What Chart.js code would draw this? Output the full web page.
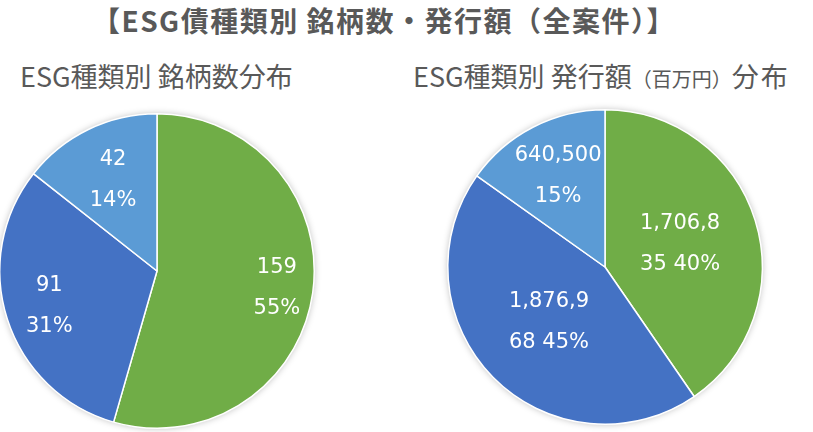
<!DOCTYPE html>
<html>
<head>
<meta charset="utf-8">
<script src="https://cdn.jsdelivr.net/npm/chart.js@4"></script>
<style>
  html, body { margin:0; padding:0; width:813px; height:432px; overflow:hidden; background:#fff; }
  .t { position:absolute; white-space:nowrap; line-height:1; color:#595959; font-family:"Noto Sans CJK JP","Noto Sans",sans-serif; }
  #title { left:0; width:768px; text-align:center; top:6px; font-size:28px; font-weight:bold; letter-spacing:1.5px; }
  #sub1 { left:20px; top:62px; font-size:27px; }
  #sub2 { left:413px; top:62px; font-size:27px; }
  #sub2 small { font-size:20px; }
  #sub2 .b { letter-spacing:2px; }
  canvas { position:absolute; }
</style>
</head>
<body>
<div class="t" id="title">【ESG債種類別 銘柄数・発行額（全案件）】</div>
<div class="t" id="sub1">ESG種類別 銘柄数分布</div>
<div class="t" id="sub2">ESG種類別 発行額<small>（百万円）</small><span class="b">分布</span></div>
<canvas id="c1" width="338" height="338" style="left:-12px;top:102px;width:338px;height:338px"></canvas>
<canvas id="c2" width="338" height="338" style="left:436px;top:98px;width:338px;height:338px"></canvas>
<script>
// ---- data ----
const categories = ['種類A', '種類B', '種類C'];
const countValues = [159, 91, 42];
const countPercentLabels = ['55%', '31%', '14%'];
const amountValues = [1706835, 1876968, 640500];
const amountPercentLabels = ['40%', '45%', '15%'];
const sliceColors = ['#70AD47', '#4472C4', '#5B9BD5'];

const fmt = v => v.toLocaleString('en-US');

function wrapChars(s, n) {
  const out = [];
  for (let i = 0; i < s.length; i += n) out.push(s.slice(i, i + n).trim());
  return out.filter(x => x.length);
}

const countLines = countValues.map((v, i) => [fmt(v), countPercentLabels[i]]);
const amountLines = amountValues.map((v, i) => wrapChars(fmt(v) + ' ' + amountPercentLabels[i], 7));

const shadowPlugin = {
  id: 'pieShadow',
  beforeDatasetsDraw(chart) {
    const arc = chart.getDatasetMeta(0).data[0];
    if (!arc) return;
    const ctx = chart.ctx;
    ctx.save();
    ctx.shadowColor = 'rgba(0,0,0,0.28)';
    ctx.shadowBlur = 7;
    ctx.fillStyle = '#ffffff';
    ctx.beginPath();
    ctx.arc(arc.x, arc.y, arc.outerRadius, 0, Math.PI * 2);
    ctx.fill();
    ctx.restore();
  }
};

const labelPlugin = {
  id: 'sliceLabels',
  afterDatasetsDraw(chart, args, opts) {
    const ctx = chart.ctx;
    const meta = chart.getDatasetMeta(0);
    ctx.save();
    ctx.fillStyle = '#ffffff';
    ctx.font = '21px "DejaVu Sans", sans-serif';
    ctx.textAlign = 'center';
    ctx.textBaseline = 'middle';
    meta.data.forEach((arc, i) => {
      const mid = (arc.startAngle + arc.endAngle) / 2;
      const r = arc.outerRadius * opts.factors[i];
      const cx = arc.x + Math.cos(mid) * r;
      const cy = arc.y + Math.sin(mid) * r;
      const lines = opts.lines[i];
      const lh = 41;
      lines.forEach((ln, k) => {
        ctx.fillText(ln, cx, cy + (k - (lines.length - 1) / 2) * lh);
      });
    });
    ctx.restore();
  }
};

function makePie(id, values, lines, factors) {
  return new Chart(document.getElementById(id), {
    type: 'pie',
    data: {
      labels: categories,
      datasets: [{
        data: values,
        backgroundColor: sliceColors,
        borderColor: '#ffffff',
        borderWidth: 1.5,
        hoverOffset: 0
      }]
    },
    options: {
      responsive: false,
      animation: false,
      events: [],
      layout: { padding: 11 },
      plugins: {
        legend: { display: false },
        tooltip: { enabled: false },
        sliceLabels: { lines: lines, factors: factors }
      }
    },
    plugins: [shadowPlugin, labelPlugin]
  });
}

makePie('c1', countValues, countLines, [0.77, 0.72, 0.64]);
makePie('c2', amountValues, amountLines, [0.5, 0.5, 0.65]);
</script>
</body>
</html>
